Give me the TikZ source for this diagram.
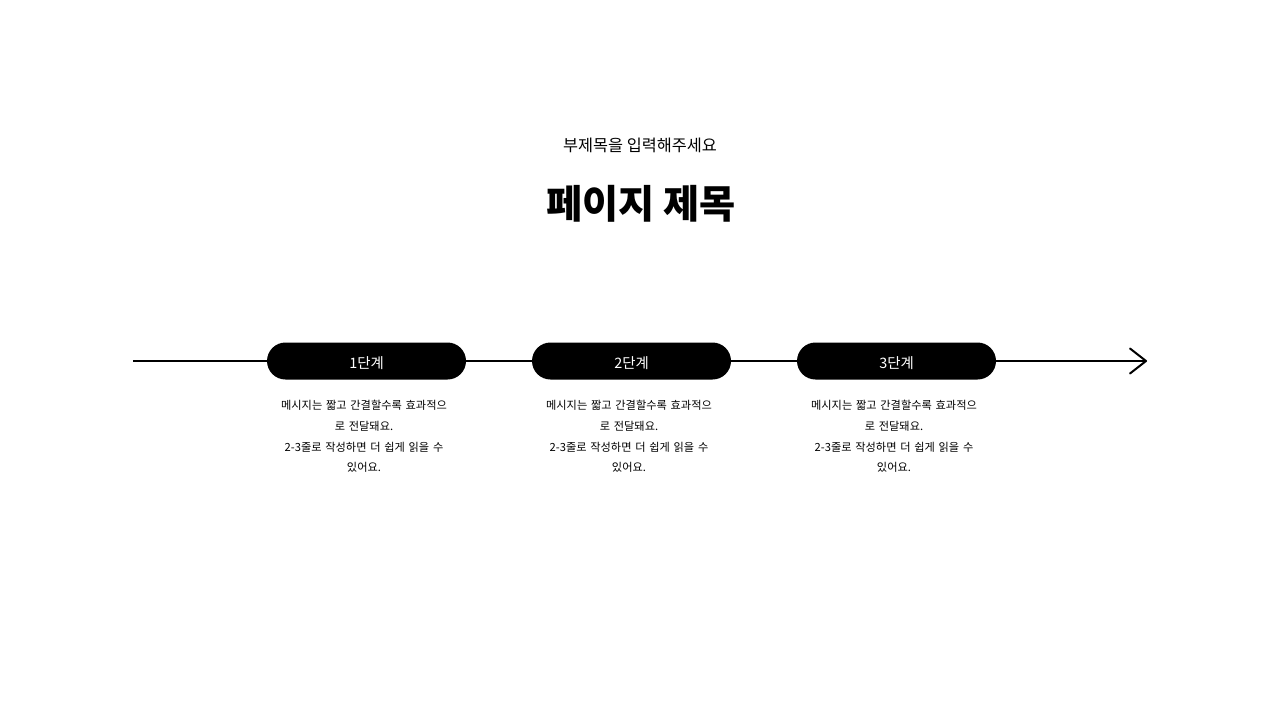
\documentclass[tikz,border=0pt]{standalone}
\usepackage{fontspec}
\setmainfont{Noto Sans CJK KR}
\usetikzlibrary{arrows.meta}
\tikzset{
  pill/.style={fill=black, rounded corners=18.5pt, minimum width=199pt, minimum height=37pt,
    inner sep=0pt, text=white, text height=15pt, text depth=0pt, font=\fontsize{14.4}{16}\selectfont},
  desc/.style={align=center, text width=220pt, inner sep=0pt,
    font=\fontsize{11.2}{20.7}\selectfont},
  timeline/.style={line width=2pt, draw=black}
}
\begin{document}
\begin{tikzpicture}[x=1pt,y=-1pt]
\useasboundingbox (0,0) rectangle (1280,720);
\node (sub) at (640,145.5) {\fontsize{16.3}{18}\selectfont 부제목을 입력해주세요};
\node (title) at (641,204) {\fontsize{39.3}{44}\selectfont\bfseries 페이지 제목};

\coordinate (start) at (133,361);
\coordinate (end) at (1147,361);
\node[pill] (s1) at (366.5,361) {1단계};
\node[pill] (s2) at (631.5,361) {2단계};
\node[pill] (s3) at (896.5,361) {3단계};

\draw[timeline] (start) -- (s1.west);
\draw[timeline] (s1.east) -- (s2.west);
\draw[timeline] (s2.east) -- (s3.west);
\draw[timeline, -{Straight Barb[length=16pt,width=25pt,line cap=round,line join=round]}] (s3.east) -- (end);

\node[desc] (d1) at (364,436.5) {메시지는 짧고 간결할수록 효과적으\\로 전달돼요.\\2-3줄로 작성하면 더 쉽게 읽을 수\\있어요.};
\node[desc] (d2) at (629,436.5) {메시지는 짧고 간결할수록 효과적으\\로 전달돼요.\\2-3줄로 작성하면 더 쉽게 읽을 수\\있어요.};
\node[desc] (d3) at (894,436.5) {메시지는 짧고 간결할수록 효과적으\\로 전달돼요.\\2-3줄로 작성하면 더 쉽게 읽을 수\\있어요.};
\end{tikzpicture}
\end{document}
